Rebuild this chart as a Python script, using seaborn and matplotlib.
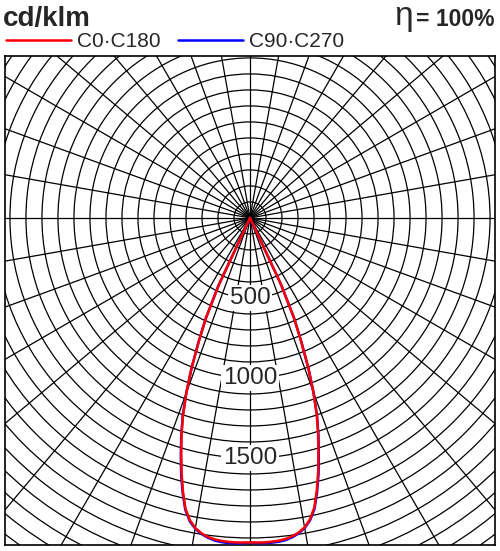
import numpy as np
import pandas as pd
import matplotlib
matplotlib.use("Agg")
import matplotlib.pyplot as plt
from matplotlib.patches import Circle
import seaborn as sns

sns.set_style("white")
plt.rcParams["font.family"] = ["Liberation Sans", "DejaVu Sans"]

# Luminous intensity (cd/klm) against gamma angle (deg from nadir)
gamma = [0, 1.25, 2.5, 3.75, 5, 6.25, 7.5, 8.75, 10, 11.25, 12.5, 13.75, 15,
         16.25, 17.5, 18.75, 20, 21.25, 22.5, 23.75, 25, 26.25, 45, 90, 135, 180]
c0 = [2028, 2029, 2030, 2028, 2025, 2019, 2008, 1990, 1964, 1920, 1855, 1755, 1645,
      1527, 1415, 1298, 1158, 1005, 835, 680, 450, 0, 0, 0, 0, 0]
c180 = [2028, 2029, 2030, 2029, 2026, 2021, 2011, 1994, 1968, 1926, 1862, 1762, 1652,
        1535, 1422, 1303, 1162, 1008, 838, 682, 455, 0, 0, 0, 0, 0]
c90 = [2030, 2032, 2034, 2034, 2032, 2026, 2014, 1995, 1968, 1926, 1862, 1764, 1655,
       1536, 1422, 1302, 1160, 1006, 838, 684, 458, 0, 0, 0, 0, 0]
c270 = [2031, 2033, 2036, 2036, 2034, 2028, 2016, 1998, 1972, 1932, 1868, 1770, 1662,
        1545, 1430, 1308, 1165, 1010, 842, 690, 470, 0, 0, 0, 0, 0]
ring_labels = [500, 1000, 1500]
eta_text = "= 100%"


def planes_to_xy(right, left):
    # left half runs 180 -> 0, right half 0 -> 180
    g = np.radians(np.array(gamma, dtype=float))
    gl, il = g[::-1], np.array(left, dtype=float)[::-1]
    gr, ir = g, np.array(right, dtype=float)
    x = np.concatenate([-il * np.sin(gl), ir * np.sin(gr)])
    y = np.concatenate([-il * np.cos(gl), -ir * np.cos(gr)])
    return pd.DataFrame({"x": x, "y": y})


fig = plt.figure(figsize=(5.0, 5.51), dpi=100)
ax = fig.add_axes([5 / 500, 6 / 551, 490 / 500, 489 / 551])
ax.set_xlim(-1531, 1531)
ax.set_ylim(-2044, 1012)
ax.set_aspect("auto")

# polar grid
for r in range(100, 2700, 100):
    ax.add_patch(Circle((0, 0), r, fill=False, color="black", lw=0.9, zorder=1))
for a in range(0, 360, 10):
    t = np.radians(a)
    ax.plot([0, 2700 * np.sin(t)], [0, -2700 * np.cos(t)], color="black", lw=0.9, zorder=1)

for v in ring_labels:
    ax.text(0, -v, str(v), ha="center", va="center", fontsize=17.5, zorder=3,
            bbox=dict(boxstyle="square,pad=0.08", fc="white", ec="none"))

df_b = planes_to_xy(c90, c270)
df_r = planes_to_xy(c0, c180)
sns.lineplot(data=df_b, x="x", y="y", sort=False, estimator=None, color="#0000FF",
             lw=1.8, ax=ax, zorder=4, label="C90·C270")
sns.lineplot(data=df_r, x="x", y="y", sort=False, estimator=None, color="#FF0000",
             lw=1.8, ax=ax, zorder=5, label="C0·C180")

handles, labels = ax.get_legend_handles_labels()
ax.legend(handles[::-1], labels[::-1], loc="lower left", bbox_to_anchor=(0.0, 1.0 + 4 / 489),
          ncol=2, frameon=False, fontsize=15, handlelength=3.1, handletextpad=0.3,
          columnspacing=0.85, borderpad=0, borderaxespad=0.05)

ax.set_xlabel("")
ax.set_ylabel("")
ax.set_xticks([])
ax.set_yticks([])
for s in ax.spines.values():
    s.set_color("black")
    s.set_linewidth(1.2)

fig.text(3 / 500, 1 - 26 / 551, "cd/klm", fontsize=20, fontweight="bold", ha="left", va="baseline")
fig.text(394 / 500, 1 - 25 / 551, "η", fontsize=24, ha="left", va="baseline")
fig.text(495 / 500, 1 - 26 / 551, eta_text, fontsize=16.5, fontweight="bold", ha="right", va="baseline")

fig.savefig("out.png", dpi=100)
